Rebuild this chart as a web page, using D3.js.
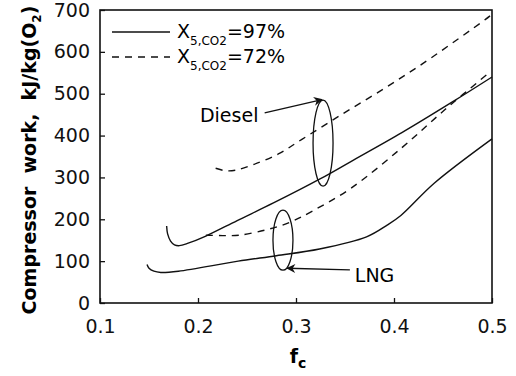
<!DOCTYPE html>
<html>
<head>
<meta charset="utf-8">
<script src="https://cdn.jsdelivr.net/npm/d3@7"></script>
<style>
  body { margin: 0; background: #fff; }
  svg { display: block; font-family: "DejaVu Sans", sans-serif; }
  .frame { fill: none; stroke: #111; stroke-width: 1.6; }
  .line { fill: none; stroke: #111; stroke-width: 1.4; }
  .dashed { stroke-dasharray: 7,6; }
  .tick_label { font-size: 19px; fill: #111; }
</style>
</head>
<body>
<svg id="chart" width="516" height="376"></svg>
<script>
// chart values (fc, compressor work kJ/kg O2)
var x_ticks = [0.1, 0.2, 0.3, 0.4, 0.5];
var y_ticks = [0, 100, 200, 300, 400, 500, 600, 700];

var diesel_97 = [[0.168,184],[0.169,165],[0.172,148],[0.176,139],[0.181,137],[0.190,143],
                 [0.208,160],[0.240,197],[0.277,239],[0.325,297],[0.356,338],[0.408,407],
                 [0.460,481],[0.500,540]];
var diesel_72 = [[0.218,322],[0.228,316],[0.238,317],[0.257,331],[0.282,356],[0.306,391],
                 [0.347,451],[0.389,511],[0.430,573],[0.493,677],[0.498,686]];
var lng_97 = [[0.148,92],[0.150,83],[0.155,76],[0.162,73],[0.180,76],[0.241,100],[0.280,113],
              [0.324,129],[0.372,158],[0.393,186],[0.407,209],[0.441,286],[0.500,392]];
var lng_72 = [[0.208,162],[0.225,161],[0.242,162],[0.270,175],[0.294,193],[0.317,220],
              [0.356,274],[0.408,371],[0.453,464],[0.497,550]];

var series = [
    {name: "diesel_97", data: diesel_97, dashed: false},
    {name: "diesel_72", data: diesel_72, dashed: true},
    {name: "lng_97", data: lng_97, dashed: false},
    {name: "lng_72", data: lng_72, dashed: true}
];

var legend_values = ["=97%", "=72%"];
var legend_dashed = [false, true];

// annotations: ellipse centres and arrow ends in data units
var ellipses = [{fc: 0.3276, w: 382}, {fc: 0.2867, w: 150}];
var ellipse_ry = [43, 30];
var labels = [{text: "Diesel", fc: 0.202, w: 432}, {text: "LNG", fc: 0.360, w: 50}];
var arrows = [[[0.268, 454], [0.3265, 486]], [[0.355, 79], [0.291, 83]]];

var svg = d3.select("#chart");
var plot_left = 100, plot_right = 492, plot_top = 10, plot_bottom = 303;

var x = d3.scaleLinear().domain([0.1, 0.5]).range([plot_left, plot_right]);
var y = d3.scaleLinear().domain([0, 700]).range([plot_bottom, plot_top]);

svg.append("defs").append("marker")
    .attr("id", "head")
    .attr("viewBox", "0 0 10 10")
    .attr("refX", 9).attr("refY", 5)
    .attr("markerWidth", 12).attr("markerHeight", 9)
    .attr("markerUnits", "userSpaceOnUse")
    .attr("orient", "auto")
  .append("path")
    .attr("d", "M0,0 L10,5 L0,10 L3,5 Z")
    .attr("fill", "#111");

// frame
svg.append("rect").attr("class", "frame")
    .attr("x", plot_left).attr("y", plot_top)
    .attr("width", plot_right - plot_left).attr("height", plot_bottom - plot_top);

// axes with inward ticks
var x_axis = d3.axisBottom(x).tickValues(x_ticks).tickSize(-5).tickPadding(17)
    .tickFormat(d3.format(".1f"));
var y_axis = d3.axisLeft(y).tickValues(y_ticks).tickSize(-5).tickPadding(10);

var gx = svg.append("g").attr("transform", "translate(0," + plot_bottom + ")").call(x_axis);
var gy = svg.append("g").attr("transform", "translate(" + plot_left + ",0)").call(y_axis);
[gx, gy].forEach(function(g) {
    g.attr("font-family", null).attr("font-size", null);
    g.select(".domain").remove();
    g.selectAll(".tick line").attr("stroke", "#111").attr("stroke-width", 1.3);
    g.selectAll(".tick text").attr("class", "tick_label");
});

// curves
var line = d3.line()
    .x(function(d) { return x(d[0]); })
    .y(function(d) { return y(d[1]); })
    .curve(d3.curveCatmullRom.alpha(0.5));

series.forEach(function(s) {
    svg.append("path")
        .datum(s.data)
        .attr("class", s.dashed ? "line dashed" : "line")
        .attr("d", line);
});

// legend
legend_values.forEach(function(v, i) {
    var ly = 32 + i * 25;
    svg.append("line")
        .attr("class", legend_dashed[i] ? "line dashed" : "line")
        .attr("x1", 112).attr("x2", 170)
        .attr("y1", ly).attr("y2", ly);
    var t = svg.append("text").attr("x", 177).attr("y", ly + 6).attr("font-size", 19);
    t.append("tspan").text("X");
    t.append("tspan").attr("font-size", 12).attr("dy", 7).text("5,CO2");
    t.append("tspan").attr("dy", -7).text(v);
});

// annotations
ellipses.forEach(function(e, i) {
    svg.append("ellipse")
        .attr("cx", x(e.fc)).attr("cy", y(e.w))
        .attr("rx", 10).attr("ry", ellipse_ry[i])
        .attr("fill", "none").attr("stroke", "#111").attr("stroke-width", 1.3);
});

arrows.forEach(function(a) {
    svg.append("line")
        .attr("x1", x(a[0][0])).attr("y1", y(a[0][1]))
        .attr("x2", x(a[1][0])).attr("y2", y(a[1][1]))
        .attr("stroke", "#111").attr("stroke-width", 1.3)
        .attr("marker-end", "url(#head)");
});

labels.forEach(function(l) {
    svg.append("text")
        .attr("x", x(l.fc)).attr("y", y(l.w))
        .attr("font-size", 19)
        .text(l.text);
});

// axis titles
var yt = svg.append("text")
    .attr("transform", "translate(36,160) rotate(-90)")
    .attr("text-anchor", "middle")
    .attr("font-size", 19).attr("font-weight", "bold");
yt.append("tspan").text("Compressor\u00a0\u00a0work,\u00a0\u00a0kJ/kg(O");
yt.append("tspan").attr("font-size", 12).attr("dy", 5).text("2");
yt.append("tspan").attr("dy", -5).text(")");

var xt = svg.append("text")
    .attr("x", 298).attr("y", 363)
    .attr("text-anchor", "middle")
    .attr("font-size", 19).attr("font-weight", "bold");
xt.append("tspan").text("f");
xt.append("tspan").attr("font-size", 14).attr("dy", 5).text("c");
</script>
</body>
</html>
